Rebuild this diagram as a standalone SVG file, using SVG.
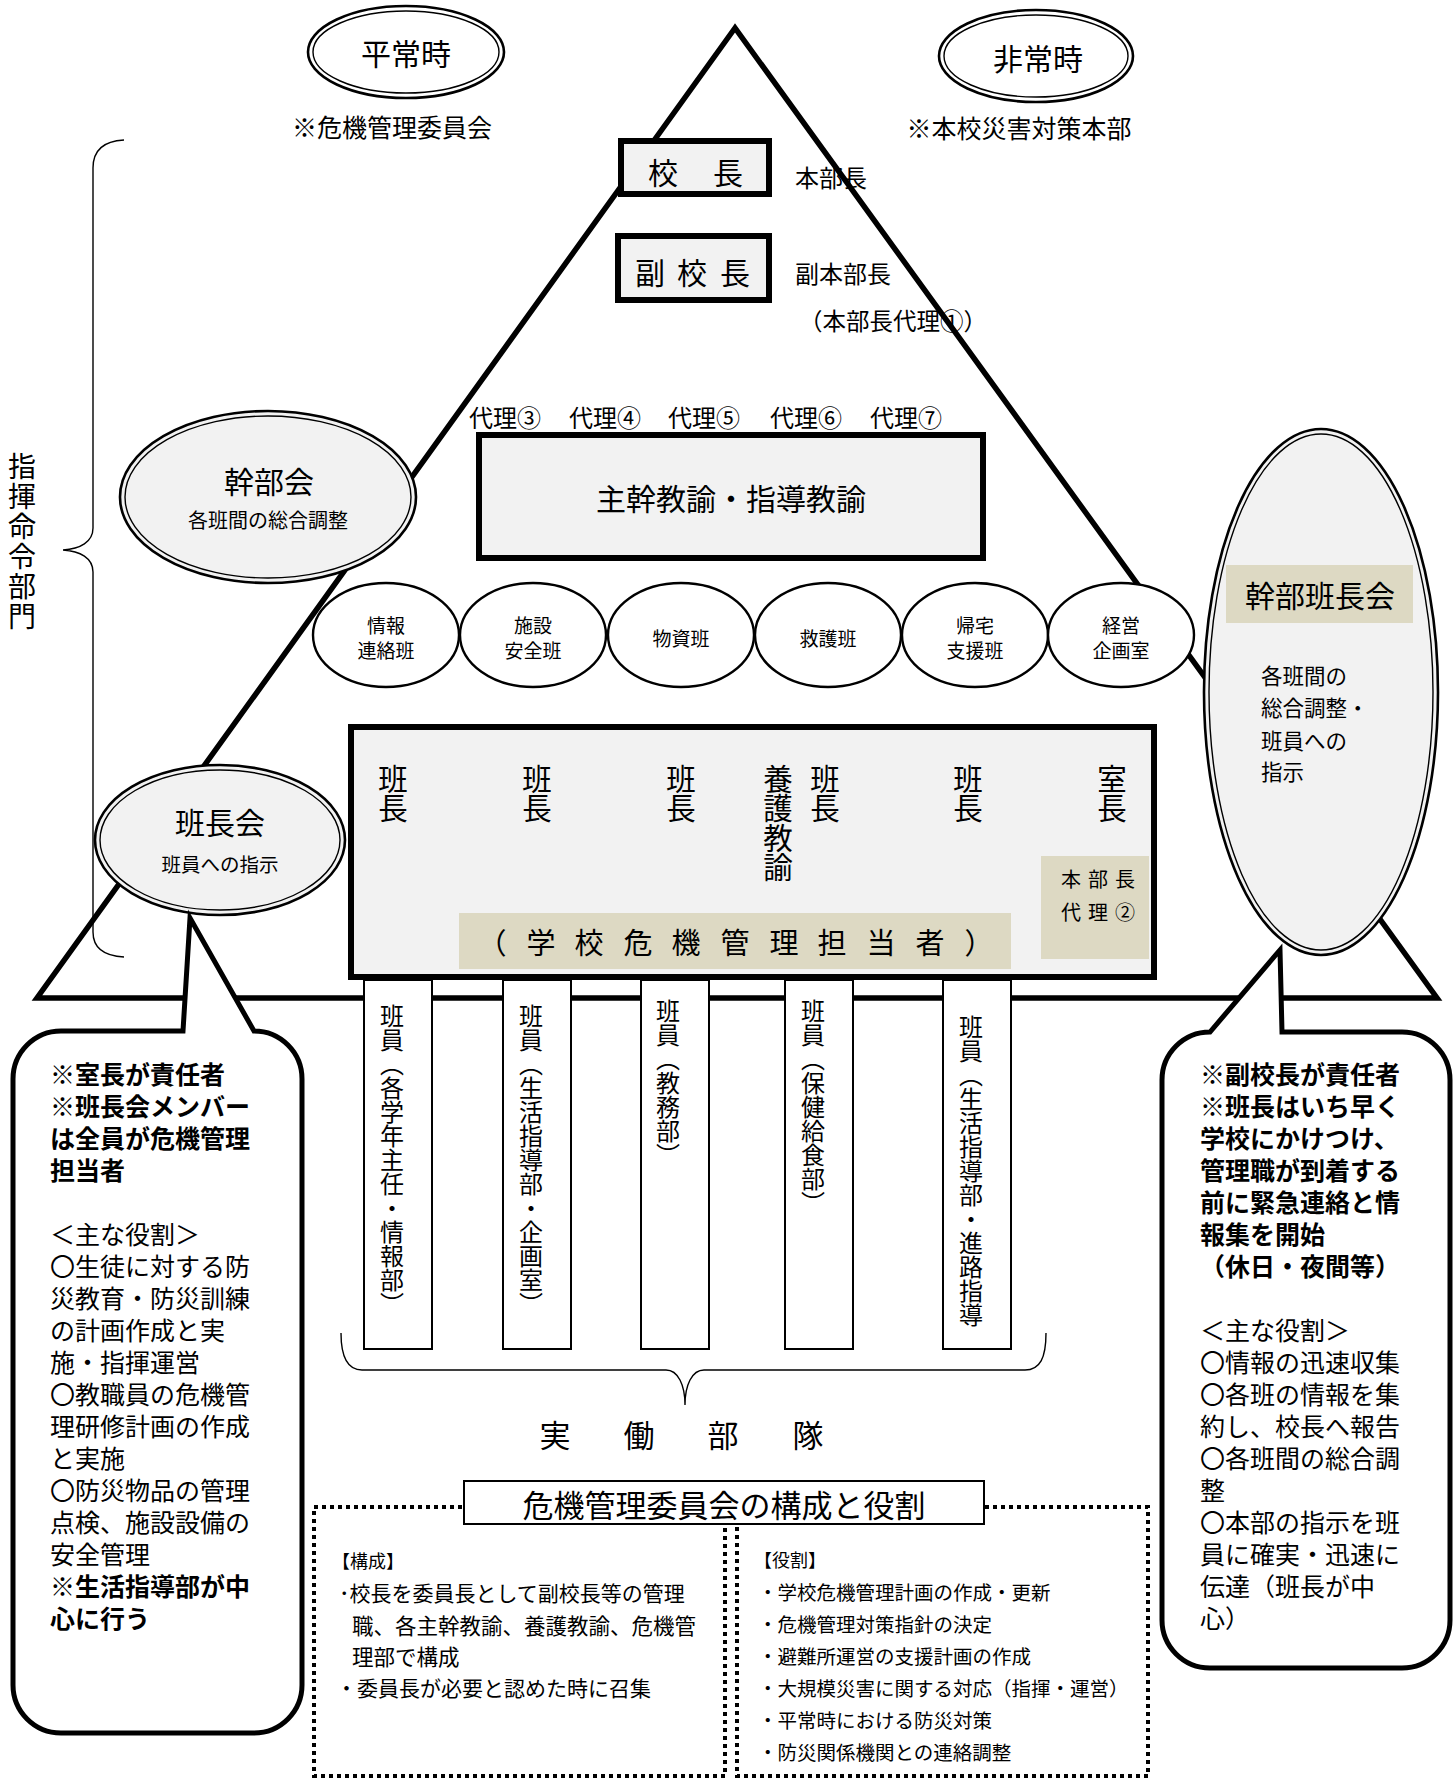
<svg xmlns="http://www.w3.org/2000/svg" width="1456" height="1780" viewBox="0 0 1456 1780">
<style>
text { font-family: "Noto Sans CJK JP", "Noto Sans", sans-serif; fill: #000; }
.c { text-anchor: middle; dominant-baseline: central; }
.l { text-anchor: start; dominant-baseline: central; }
.v { writing-mode: vertical-rl; text-anchor: start; }
.b { font-weight: 700; }
.tri { fill: none; stroke: #000; stroke-width: 5.5; stroke-linejoin: miter; }
.thick { fill: #f2f2f2; stroke: #000; stroke-width: 6; }
.thin { fill: #fff; stroke: #000; stroke-width: 2; }
.oe { stroke: #000; stroke-width: 2.6; }
.ie { fill: none; stroke: #000; stroke-width: 1.4; }
.sm { fill: #fff; stroke: #000; stroke-width: 2.4; }
.tan { fill: #ddd9c3; }
.brace { fill: none; stroke: #000; stroke-width: 1.4; }
.bub { fill: #fff; stroke: #000; stroke-width: 5; stroke-linejoin: miter; }
.dot { fill: none; stroke: #000; stroke-width: 4; stroke-dasharray: 4 4; }
</style>

<g id="connectors">
  <path class="tri" d="M735,28 L37,998 L1437,998 Z"/>
  <path class="brace" d="M124,140 C104,141 93,150 93,168 L93,528 C93,542 80,549 63,550 C80,551 93,558 93,572 L93,932 C93,948 104,956 124,957"/>
  <path class="brace" d="M341,1333 C341,1358 348,1370 362,1370 L666,1370 C678,1370 685,1385 685,1405 C685,1385 692,1370 704,1370 L1025,1370 C1040,1370 1046,1358 1046,1333"/>
</g>

<g id="heijoji">
  <ellipse class="oe" fill="#fff" cx="406" cy="52" rx="98" ry="46"/>
  <ellipse class="ie" cx="406" cy="52" rx="93" ry="41"/>
  <text class="c" x="406" y="52" font-size="30">平常時</text>
  <text class="c" x="392" y="126" font-size="25">※危機管理委員会</text>
</g>

<g id="hijoji">
  <ellipse class="oe" fill="#fff" cx="1036" cy="56" rx="97" ry="46"/>
  <ellipse class="ie" cx="1036" cy="56" rx="92" ry="41"/>
  <text class="c" x="1038" y="57" font-size="30">非常時</text>
  <text class="c" x="1019" y="127" font-size="25">※本校災害対策本部</text>
</g>

<g id="kocho">
  <rect class="thick" x="621" y="141" width="148" height="53"/>
  <text class="c" x="663" y="171" font-size="30">校</text>
  <text class="c" x="728" y="171" font-size="30">長</text>
  <text class="l" x="795" y="176" font-size="24">本部長</text>
</g>

<g id="fukukocho">
  <rect class="thick" x="618" y="236" width="151" height="64"/>
  <text class="c" x="650" y="271" font-size="30">副</text>
  <text class="c" x="692" y="271" font-size="30">校</text>
  <text class="c" x="735" y="271" font-size="30">長</text>
  <text class="l" x="795" y="272" font-size="24">副本部長</text>
  <text class="l" x="799" y="320" font-size="23.5">（本部長代理①）</text>
</g>

<g id="dairi">
  <text class="l" x="469" y="416" font-size="24">代理③</text>
  <text class="l" x="569" y="416" font-size="24">代理④</text>
  <text class="l" x="668" y="416" font-size="24">代理⑤</text>
  <text class="l" x="770" y="416" font-size="24">代理⑥</text>
  <text class="l" x="870" y="416" font-size="24">代理⑦</text>
</g>

<g id="shukan">
  <rect class="thick" x="479" y="435" width="504" height="123"/>
  <text class="c" x="731" y="497" font-size="30">主幹教諭・指導教諭</text>
</g>

<g id="kanbukai">
  <ellipse class="oe" fill="#f2f2f2" cx="268" cy="497" rx="148" ry="86"/>
  <ellipse class="ie" cx="268" cy="497" rx="143" ry="81"/>
  <text class="c" x="269" y="480" font-size="30">幹部会</text>
  <text class="c" x="268" y="519" font-size="20">各班間の総合調整</text>
</g>

<g id="hanchokai">
  <ellipse class="oe" fill="#f2f2f2" cx="220" cy="840" rx="125" ry="75"/>
  <ellipse class="ie" cx="220" cy="840" rx="120" ry="70"/>
  <text class="c" x="220" y="821" font-size="30">班長会</text>
  <text class="c" x="220" y="863" font-size="19.5">班員への指示</text>
</g>

<g id="han-joho">
  <ellipse class="sm" cx="386" cy="635" rx="73" ry="52"/>
  <text class="c" x="386" y="624" font-size="19">情報</text>
  <text class="c" x="386" y="649" font-size="19">連絡班</text>
</g>
<g id="han-shisetsu">
  <ellipse class="sm" cx="533" cy="635" rx="73" ry="52"/>
  <text class="c" x="533" y="624" font-size="19">施設</text>
  <text class="c" x="533" y="649" font-size="19">安全班</text>
</g>
<g id="han-busshi">
  <ellipse class="sm" cx="681" cy="635" rx="73" ry="52"/>
  <text class="c" x="681" y="637" font-size="19">物資班</text>
</g>
<g id="han-kyugo">
  <ellipse class="sm" cx="828" cy="635" rx="73" ry="52"/>
  <text class="c" x="828" y="637" font-size="19">救護班</text>
</g>
<g id="han-kitaku">
  <ellipse class="sm" cx="975" cy="635" rx="73" ry="52"/>
  <text class="c" x="975" y="624" font-size="19">帰宅</text>
  <text class="c" x="975" y="649" font-size="19">支援班</text>
</g>
<g id="han-keiei">
  <ellipse class="sm" cx="1121" cy="635" rx="73" ry="52"/>
  <text class="c" x="1121" y="624" font-size="19">経営</text>
  <text class="c" x="1121" y="649" font-size="19">企画室</text>
</g>

<g id="kanbuhanchokai">
  <ellipse class="oe" fill="#f2f2f2" cx="1321" cy="692" rx="117" ry="263"/>
  <ellipse class="ie" cx="1321" cy="692" rx="112" ry="258"/>
  <rect class="tan" x="1226" y="565" width="187" height="58"/>
  <text class="c" x="1320" y="594" font-size="30">幹部班長会</text>
  <text class="l" x="1261" y="674" font-size="21.5">各班間の</text>
  <text class="l" x="1261" y="706" font-size="21.5">総合調整・</text>
  <text class="l" x="1261" y="739" font-size="21.5">班員への</text>
  <text class="l" x="1261" y="770" font-size="21.5">指示</text>
</g>

<g id="hanin">
  <rect class="thin" x="364" y="980" width="68" height="369"/>
  <rect class="thin" x="503" y="980" width="68" height="369"/>
  <rect class="thin" x="641" y="980" width="68" height="369"/>
  <rect class="thin" x="785" y="980" width="68" height="369"/>
  <rect class="thin" x="943" y="980" width="68" height="369"/>
  <text class="v" x="392" y="1004" font-size="24">班員（各学年主任・情報部）</text>
  <text class="v" x="531" y="1004" font-size="24">班員（生活指導部・企画室）</text>
  <text class="v" x="668" y="999" font-size="24">班員（教務部）</text>
  <text class="v" x="813" y="999" font-size="24">班員（保健給食部）</text>
  <text class="v" x="971" y="1015" font-size="24">班員（生活指導部・進路指導</text>
</g>

<g id="hancho">
  <rect class="thick" x="351" y="727" width="803" height="250"/>
  <text class="v" x="393" y="764" font-size="29.5">班長</text>
  <text class="v" x="537" y="764" font-size="29.5">班長</text>
  <text class="v" x="681" y="764" font-size="29.5">班長</text>
  <text class="v" x="778" y="764" font-size="29.5">養護教諭</text>
  <text class="v" x="825" y="764" font-size="29.5">班長</text>
  <text class="v" x="968" y="764" font-size="29.5">班長</text>
  <text class="v" x="1112" y="764" font-size="29.5">室長</text>
  <rect class="tan" x="459" y="913" width="552" height="56"/>
  <text class="c" x="492 541 589 638 686 735 784 832 881 930 979" y="941" font-size="29">（学校危機管理担当者）</text>
  <rect class="tan" x="1041" y="856" width="108" height="103"/>
  <text class="c" x="1071 1098 1125" y="878" font-size="20">本部長</text>
  <text class="c" x="1071 1098 1125" y="911" font-size="20">代理②</text>
</g>

<g id="shiki">
  <text class="v" x="22" y="452" font-size="28" letter-spacing="2">指揮命令部門</text>
</g>

<g id="jitsudo">
  <text class="c" x="555 639 723 808" y="1433" font-size="31">実働部隊</text>
</g>

<g id="bubble-left">
  <path class="bub" d="M190,918 L254,1031 A48,48 0 0 1 302,1079 L302,1685 A48,48 0 0 1 254,1733 L61,1733 A48,48 0 0 1 13,1685 L13,1079 A48,48 0 0 1 61,1031 L183,1031 Z"/>
  <g font-size="25">
    <text class="l b" x="50" y="1073">※室長が責任者</text>
    <text class="l b" x="50" y="1105">※班長会メンバー</text>
    <text class="l b" x="50" y="1137">は全員が危機管理</text>
    <text class="l b" x="50" y="1169">担当者</text>
    <text class="l" x="50" y="1233">＜主な役割＞</text>
    <text class="l" x="50" y="1265">〇生徒に対する防</text>
    <text class="l" x="50" y="1297">災教育・防災訓練</text>
    <text class="l" x="50" y="1329">の計画作成と実</text>
    <text class="l" x="50" y="1361">施・指揮運営</text>
    <text class="l" x="50" y="1393">〇教職員の危機管</text>
    <text class="l" x="50" y="1425">理研修計画の作成</text>
    <text class="l" x="50" y="1457">と実施</text>
    <text class="l" x="50" y="1489">〇防災物品の管理</text>
    <text class="l" x="50" y="1521">点検、施設設備の</text>
    <text class="l" x="50" y="1553">安全管理</text>
    <text class="l b" x="50" y="1585">※生活指導部が中</text>
    <text class="l b" x="50" y="1617">心に行う</text>
  </g>
</g>

<g id="bubble-right">
  <path class="bub" d="M1280,950 L1282,1032 L1402,1032 A48,48 0 0 1 1450,1080 L1450,1620 A48,48 0 0 1 1402,1668 L1210,1668 A48,48 0 0 1 1162,1620 L1162,1080 A48,48 0 0 1 1210,1032 Z"/>
  <g font-size="25">
    <text class="l b" x="1200" y="1073">※副校長が責任者</text>
    <text class="l b" x="1200" y="1105">※班長はいち早く</text>
    <text class="l b" x="1200" y="1137">学校にかけつけ、</text>
    <text class="l b" x="1200" y="1169">管理職が到着する</text>
    <text class="l b" x="1200" y="1201">前に緊急連絡と情</text>
    <text class="l b" x="1200" y="1233">報集を開始</text>
    <text class="l b" x="1200" y="1265">（休日・夜間等）</text>
    <text class="l" x="1200" y="1329">＜主な役割＞</text>
    <text class="l" x="1200" y="1361">〇情報の迅速収集</text>
    <text class="l" x="1200" y="1393">〇各班の情報を集</text>
    <text class="l" x="1200" y="1425">約し、校長へ報告</text>
    <text class="l" x="1200" y="1457">〇各班間の総合調</text>
    <text class="l" x="1200" y="1489">整</text>
    <text class="l" x="1200" y="1521">〇本部の指示を班</text>
    <text class="l" x="1200" y="1553">員に確実・迅速に</text>
    <text class="l" x="1200" y="1585">伝達（班長が中</text>
    <text class="l" x="1200" y="1617">心）</text>
  </g>
</g>

<g id="iinkai">
  <rect class="dot" x="314" y="1507" width="411" height="269"/>
  <rect class="dot" x="737" y="1507" width="411" height="269"/>
  <rect class="thin" x="464" y="1481" width="520" height="43"/>
  <text class="c" x="724" y="1503" font-size="31">危機管理委員会の構成と役割</text>
  <text class="l" x="332" y="1560" font-size="18">【構成】</text>
  <text class="l" x="339" y="1592" font-size="21">･校長を委員長として副校長等の管理</text>
  <text class="l" x="352" y="1624" font-size="21.5">職、各主幹教諭、養護教諭、危機管</text>
  <text class="l" x="352" y="1655" font-size="21.5">理部で構成</text>
  <text class="l" x="336" y="1687" font-size="21">・委員長が必要と認めた時に召集</text>
  <text class="l" x="754" y="1559" font-size="18">【役割】</text>
  <text class="l" x="758" y="1591" font-size="19.5">・学校危機管理計画の作成・更新</text>
  <text class="l" x="758" y="1623" font-size="19.5">・危機管理対策指針の決定</text>
  <text class="l" x="758" y="1655" font-size="19.5">・避難所運営の支援計画の作成</text>
  <text class="l" x="758" y="1687" font-size="19.5">・大規模災害に関する対応（指揮・運営）</text>
  <text class="l" x="758" y="1719" font-size="19.5">・平常時における防災対策</text>
  <text class="l" x="758" y="1751" font-size="19.5">・防災関係機関との連絡調整</text>
</g>
</svg>
